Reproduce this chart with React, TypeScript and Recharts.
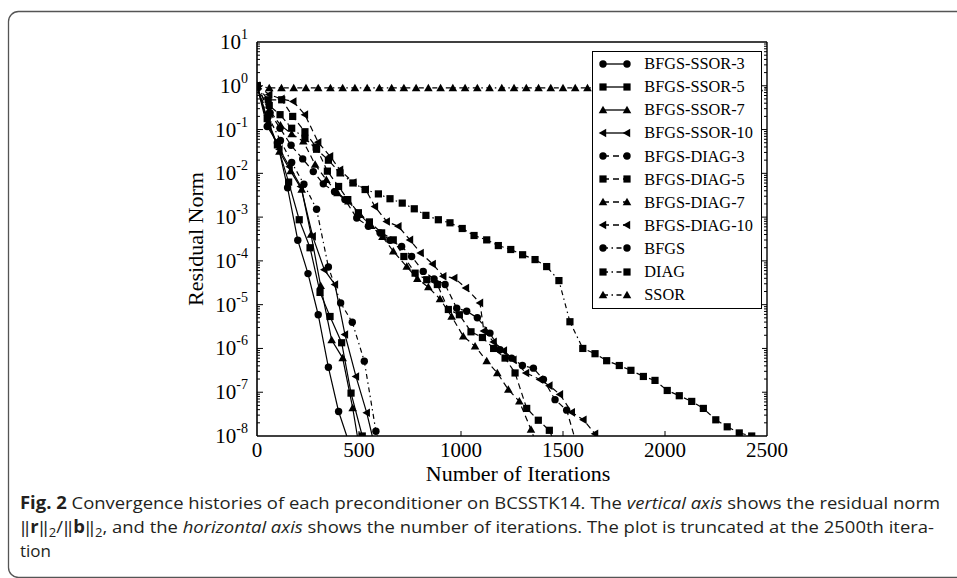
import React from 'react';
import { LineChart, Line, XAxis, YAxis, Legend } from 'recharts';

const SERIF = "'Liberation Serif', 'Times New Roman', serif";
const SANS = "'Liberation Sans Narrow', 'Open Sans', 'Noto Sans', sans-serif";

// Axis ticks
const xTicks = [0, 500, 1000, 1500, 2000, 2500];
const xInnerTicks = [500, 1000, 1500, 2000];
const yExponents = [-8, -7, -6, -5, -4, -3, -2, -1, 0, 1];
const minorSteps = [2, 3, 4, 5, 6, 7, 8, 9];

// Iteration counts and log10 of the relative residual ||r||/||b|| for each run
const ssor3It = [0, 50, 100, 150, 200, 250, 300, 350, 400, 440];
const ssor3Lg = [0, -0.93, -1.3, -2.33, -3.53, -4.29, -5.23, -6.43, -7.44, -8];

const ssor5It = [0, 50, 100, 155, 207, 260, 309, 358, 415, 461, 516];
const ssor5Lg = [0, -0.75, -1.35, -2.2, -3.06, -3.7, -4.72, -5.27, -5.87, -7.02, -8];

const ssor7It = [0, 55, 110, 165, 219, 265, 312, 366, 420, 469, 492];
const ssor7Lg = [0, -0.85, -1.5, -1.95, -2.37, -3.4, -4.57, -5.81, -6.22, -7.36, -8];

const ssor10It = [0, 55, 110, 160, 215, 273, 330, 382, 431, 485, 538, 565];
const ssor10Lg = [0, -0.9, -1.45, -1.85, -2.3, -3.44, -4.2, -4.54, -5.68, -6.64, -7.47, -8];

const diag3It = [0, 64, 113, 167, 224, 276, 325, 380, 431, 489, 546, 603, 652, 709, 758, 815, 868, 922, 979, 1028, 1080, 1142, 1191, 1248, 1301, 1355, 1404, 1461, 1518, 1555];
const diag3Lg = [0, -0.62, -0.97, -1.36, -1.67, -1.96, -2.24, -2.42, -2.6, -3.02, -3.21, -3.36, -3.53, -3.67, -3.9, -4.24, -4.41, -4.54, -5.08, -5.15, -5.3, -5.65, -6.03, -6.22, -6.39, -6.45, -6.71, -7.17, -7.41, -8];

const diag5It = [0, 55, 121, 175, 235, 290, 345, 400, 445, 497, 551, 611, 668, 720, 775, 832, 884, 938, 992, 1049, 1105, 1160, 1216, 1265, 1322, 1379, 1433, 1445];
const diag5Lg = [0, -0.32, -0.32, -0.7, -1.05, -1.4, -1.95, -2.3, -2.6, -2.9, -3.11, -3.36, -3.52, -3.9, -4.28, -4.43, -4.54, -5.11, -5.23, -5.62, -5.75, -6.0, -6.22, -6.56, -7.37, -7.64, -7.87, -8];

const diag7It = [0, 60, 115, 170, 227, 285, 340, 395, 448, 505, 560, 615, 668, 734, 786, 840, 897, 954, 1011, 1069, 1126, 1178, 1232, 1286, 1343, 1355];
const diag7Lg = [0, -0.55, -0.9, -1.1, -1.27, -1.8, -2.15, -2.45, -2.64, -2.95, -3.2, -3.45, -3.78, -4.13, -4.41, -4.6, -4.87, -5.27, -5.72, -5.95, -6.29, -6.56, -6.94, -7.21, -7.85, -8];

const diag10It = [0, 60, 120, 178, 235, 300, 358, 407, 472, 533, 578, 636, 693, 750, 802, 861, 913, 967, 1024, 1093, 1112, 1160, 1210, 1257, 1319, 1387, 1433, 1485, 1543, 1600, 1657, 1668];
const diag10Lg = [0, -0.2, -0.3, -0.36, -0.66, -1.29, -1.61, -1.92, -2.21, -2.37, -2.76, -3.1, -3.21, -3.52, -3.82, -4.07, -4.35, -4.39, -4.62, -4.96, -5.6, -5.85, -6.05, -6.26, -6.56, -6.71, -6.85, -7.05, -7.46, -7.63, -7.95, -8];

const bfgsIt = [0, 55, 115, 170, 230, 292, 350, 410, 467, 526, 583, 590];
const bfgsLg = [0, -0.7, -1.25, -1.75, -2.25, -2.82, -4.14, -4.96, -5.4, -6.29, -7.89, -8];

const diagIt = [0, 60, 113, 170, 235, 292, 350, 407, 470, 530, 595, 652, 712, 771, 828, 889, 946, 1006, 1064, 1126, 1183, 1244, 1302, 1363, 1420, 1480, 1534, 1597, 1657, 1714, 1776, 1833, 1894, 1951, 2011, 2070, 2131, 2188, 2249, 2305, 2364, 2425];
const diagLg = [0, -0.45, -0.66, -0.97, -1.2, -1.45, -1.7, -1.99, -2.22, -2.37, -2.47, -2.58, -2.68, -2.81, -2.96, -3.06, -3.13, -3.26, -3.42, -3.52, -3.65, -3.74, -3.86, -3.97, -4.13, -4.45, -5.39, -6.0, -6.12, -6.28, -6.39, -6.5, -6.64, -6.73, -6.96, -7.08, -7.21, -7.37, -7.63, -7.79, -7.93, -8];

const ssorIt = [0, 60, 120, 180, 240, 300, 360, 420, 480, 540, 600, 660, 720, 780, 840, 900, 960, 1020, 1080, 1140, 1200, 1260, 1320, 1380, 1440, 1500, 1560, 1620, 1680, 1740, 1800, 1860, 1920, 1980, 2040, 2100, 2160, 2220, 2280, 2340, 2400, 2460, 2500];
const ssorLg = [0, -0.05, -0.05, -0.05, -0.05, -0.05, -0.05, -0.05, -0.05, -0.05, -0.05, -0.05, -0.05, -0.05, -0.05, -0.05, -0.05, -0.05, -0.05, -0.05, -0.05, -0.05, -0.05, -0.05, -0.05, -0.05, -0.05, -0.05, -0.05, -0.05, -0.05, -0.05, -0.05, -0.05, -0.05, -0.05, -0.05, -0.05, -0.05, -0.05, -0.05, -0.05, -0.05];

type MarkerKind = 'circle' | 'square' | 'triangle' | 'left';
type DashKind = 'solid' | 'dashed' | 'dashdot';

interface Series {
  name: string;
  it: number[];
  lg: number[];
  marker: MarkerKind;
  dash: DashKind;
  endMark: boolean;
}

const series: Series[] = [
  { name: 'BFGS-SSOR-3', it: ssor3It, lg: ssor3Lg, marker: 'circle', dash: 'solid', endMark: false },
  { name: 'BFGS-SSOR-5', it: ssor5It, lg: ssor5Lg, marker: 'square', dash: 'solid', endMark: true },
  { name: 'BFGS-SSOR-7', it: ssor7It, lg: ssor7Lg, marker: 'triangle', dash: 'solid', endMark: false },
  { name: 'BFGS-SSOR-10', it: ssor10It, lg: ssor10Lg, marker: 'left', dash: 'solid', endMark: false },
  { name: 'BFGS-DIAG-3', it: diag3It, lg: diag3Lg, marker: 'circle', dash: 'dashed', endMark: false },
  { name: 'BFGS-DIAG-5', it: diag5It, lg: diag5Lg, marker: 'square', dash: 'dashed', endMark: false },
  { name: 'BFGS-DIAG-7', it: diag7It, lg: diag7Lg, marker: 'triangle', dash: 'dashed', endMark: false },
  { name: 'BFGS-DIAG-10', it: diag10It, lg: diag10Lg, marker: 'left', dash: 'dashed', endMark: false },
  { name: 'BFGS', it: bfgsIt, lg: bfgsLg, marker: 'circle', dash: 'dashdot', endMark: false },
  { name: 'DIAG', it: diagIt, lg: diagLg, marker: 'square', dash: 'dashdot', endMark: true },
  { name: 'SSOR', it: ssorIt, lg: ssorLg, marker: 'triangle', dash: 'dashdot', endMark: false },
];

const dashArray: Record<DashKind, string | undefined> = {
  solid: undefined,
  dashed: '6 4',
  dashdot: '5 3.5 1.5 3.5',
};

const yMajor = yExponents.map((e) => Math.pow(10, e));
const yMinor = yExponents.slice(0, -1).flatMap((e) => minorSteps.map((m) => m * Math.pow(10, e)));
const yAllTicks = [...yMajor, ...yMinor].sort((a, b) => a - b);

const toRows = (s: Series) => s.it.map((it, i) => ({ it, r: Math.pow(10, s.lg[i]) }));

function MarkerShape({ kind, cx, cy }: { kind: MarkerKind; cx: number; cy: number }) {
  switch (kind) {
    case 'circle':
      return <circle cx={cx} cy={cy} r={3.7} fill="#000" />;
    case 'square':
      return <rect x={cx - 3.6} y={cy - 3.6} width={7.2} height={7.2} fill="#000" />;
    case 'triangle':
      return <polygon points={`${cx},${cy - 4.3} ${cx + 4.3},${cy + 3.2} ${cx - 4.3},${cy + 3.2}`} fill="#000" />;
    default:
      return <polygon points={`${cx - 4.3},${cy} ${cx + 3.2},${cy - 4.3} ${cx + 3.2},${cy + 4.3}`} fill="#000" />;
  }
}

const makeDot = (s: Series) => (p: any) => {
  const key = `${s.name}-${p.index}`;
  const last = p.index === s.it.length - 1;
  if ((last && !s.endMark) || p.cx == null || p.cy == null) return <g key={key} />;
  return (
    <g key={key}>
      <MarkerShape kind={s.marker} cx={p.cx} cy={p.cy} />
    </g>
  );
};

const LEFT_TICK_MARGIN = 9;

function LeftTick(props: any) {
  const { x, y, payload } = props;
  const k = yMajor.indexOf(payload.value);
  const ax = x + LEFT_TICK_MARGIN;
  const edge = k === 0 || k === yMajor.length - 1;
  return (
    <g>
      {!edge && <line x1={ax} x2={ax + (k >= 0 ? 6 : 3)} y1={y} y2={y} stroke="#000" strokeWidth={1} />}
      {k >= 0 && (
        <text x={x} y={y + 7} textAnchor="end" fontFamily={SERIF} fontSize={21} fill="#000">
          <tspan>10</tspan>
          <tspan dy={-10} fontSize={14}>
            {String(yExponents[k])}
          </tspan>
        </text>
      )}
    </g>
  );
}

function RightTick(props: any) {
  const { x, y, payload } = props;
  const k = yMajor.indexOf(payload.value);
  const edge = k === 0 || k === yMajor.length - 1;
  if (edge) return <g />;
  return <line x1={x} x2={x - (k >= 0 ? 5 : 3)} y1={y} y2={y} stroke="#000" strokeWidth={1} />;
}

function BottomTick(props: any) {
  const { x, y, payload } = props;
  const inner = xInnerTicks.includes(payload.value);
  return (
    <g>
      {inner && <line x1={x} x2={x} y1={y} y2={y - 5} stroke="#000" strokeWidth={1} />}
      <text x={x} y={y + 21} textAnchor="middle" fontFamily={SERIF} fontSize={21} fill="#000">
        {payload.value}
      </text>
    </g>
  );
}

function LegendBox() {
  return (
    <div
      style={{
        border: '1px solid #000',
        background: '#fff',
        padding: '0.5px 8px 1.8px 0',
        fontFamily: SERIF,
        fontSize: 16.3,
        color: '#000',
      }}
    >
      {series.map((s) => (
        <div key={s.name} style={{ display: 'flex', alignItems: 'center', height: 23.1, whiteSpace: 'nowrap' }}>
          <svg width={40} height={14} style={{ marginLeft: 3, display: 'block' }}>
            <line x1={7} x2={31} y1={7} y2={7} stroke="#000" strokeWidth={1.3} strokeDasharray={dashArray[s.dash]} />
            <MarkerShape kind={s.marker} cx={7} cy={7} />
            <MarkerShape kind={s.marker} cx={31} cy={7} />
          </svg>
          <span style={{ marginLeft: 8.6, lineHeight: '23.1px' }}>{s.name}</span>
        </div>
      ))}
    </div>
  );
}

export default function App() {
  return (
    <div style={{ position: 'absolute', left: 0, top: 0, width: 957, height: 578, background: '#fff', overflow: 'hidden' }}>
      <LineChart width={957} height={578} margin={{ top: 42, right: 190, bottom: 102, left: 0 }}>
        <XAxis
          xAxisId="bottom"
          type="number"
          dataKey="it"
          domain={[0, 2500]}
          ticks={xTicks}
          interval={0}
          allowDataOverflow
          height={40}
          tickLine={false}
          tickSize={0}
          tickMargin={0}
          tick={<BottomTick />}
          axisLine={{ stroke: '#000', strokeWidth: 1.6 }}
        />
        <XAxis
          xAxisId="top"
          orientation="top"
          mirror
          type="number"
          domain={[0, 2500]}
          ticks={xInnerTicks}
          interval={0}
          allowDataOverflow
          tick={false}
          tickSize={5}
          tickLine={{ stroke: '#000', strokeWidth: 1 }}
          axisLine={{ stroke: '#000', strokeWidth: 1.4 }}
        />
        <YAxis
          yAxisId="left"
          width={257}
          type="number"
          scale="log"
          domain={[1e-8, 10]}
          ticks={yAllTicks}
          interval={0}
          allowDataOverflow
          tickLine={false}
          tickSize={0}
          tickMargin={LEFT_TICK_MARGIN}
          tick={<LeftTick />}
          axisLine={{ stroke: '#000', strokeWidth: 1.6 }}
        />
        <YAxis
          yAxisId="right"
          orientation="right"
          mirror
          type="number"
          scale="log"
          domain={[1e-8, 10]}
          ticks={yAllTicks}
          interval={0}
          allowDataOverflow
          tickLine={false}
          tickSize={0}
          tickMargin={0}
          tick={<RightTick />}
          axisLine={{ stroke: '#000', strokeWidth: 1.4 }}
        />
        {series.map((s) => (
          <Line
            key={s.name}
            name={s.name}
            xAxisId="bottom"
            yAxisId="left"
            data={toRows(s)}
            dataKey="r"
            type="linear"
            stroke="#000"
            strokeWidth={1.2}
            strokeDasharray={dashArray[s.dash]}
            dot={makeDot(s)}
            activeDot={false}
            isAnimationActive={false}
          />
        ))}
        <Legend
          layout="vertical"
          align="center"
          verticalAlign="middle"
          wrapperStyle={{ left: 591.7, top: 50.7, width: 'auto' }}
          content={() => <LegendBox />}
        />
      </LineChart>

      <svg
        width={957}
        height={578}
        style={{ position: 'absolute', left: 0, top: 0, pointerEvents: 'none' }}
      >
        <rect x={8.5} y={11.5} width={1000} height={566} rx={10} ry={10} fill="none" stroke="#555" strokeWidth={1.3} />
        <text x={518} y={481} textAnchor="middle" fontFamily={SERIF} fontSize={22} fill="#000">
          Number of Iterations
        </text>
        <text transform="translate(203,239) rotate(-90)" textAnchor="middle" fontFamily={SERIF} fontSize={22} fill="#000">
          Residual Norm
        </text>
        <g fontFamily={SANS} fontSize={17} fill="#231f20" style={{ whiteSpace: 'pre' }}>
          <text x={20} y={508.5} textLength={920} lengthAdjust="spacingAndGlyphs">
            <tspan fontWeight="bold">Fig. 2</tspan>
            <tspan>{'  Convergence histories of each preconditioner on BCSSTK14. The '}</tspan>
            <tspan fontStyle="italic">vertical axis</tspan>
            <tspan>{' shows the residual norm'}</tspan>
          </text>
          <text x={20} y={532.5} textLength={914} lengthAdjust="spacingAndGlyphs">
            <tspan>{'\u2016'}</tspan>
            <tspan fontWeight="bold">r</tspan>
            <tspan>{'\u2016'}</tspan>
            <tspan dy={4} fontSize={12}>2</tspan>
            <tspan dy={-4}>/</tspan>
            <tspan>{'\u2016'}</tspan>
            <tspan fontWeight="bold">b</tspan>
            <tspan>{'\u2016'}</tspan>
            <tspan dy={4} fontSize={12}>2</tspan>
            <tspan dy={-4}>{', and the '}</tspan>
            <tspan fontStyle="italic">horizontal axis</tspan>
            <tspan>{' shows the number of iterations. The plot is truncated at the 2500th itera-'}</tspan>
          </text>
          <text x={20} y={556.5} textLength={31} lengthAdjust="spacingAndGlyphs">
            tion
          </text>
        </g>
      </svg>
    </div>
  );
}
